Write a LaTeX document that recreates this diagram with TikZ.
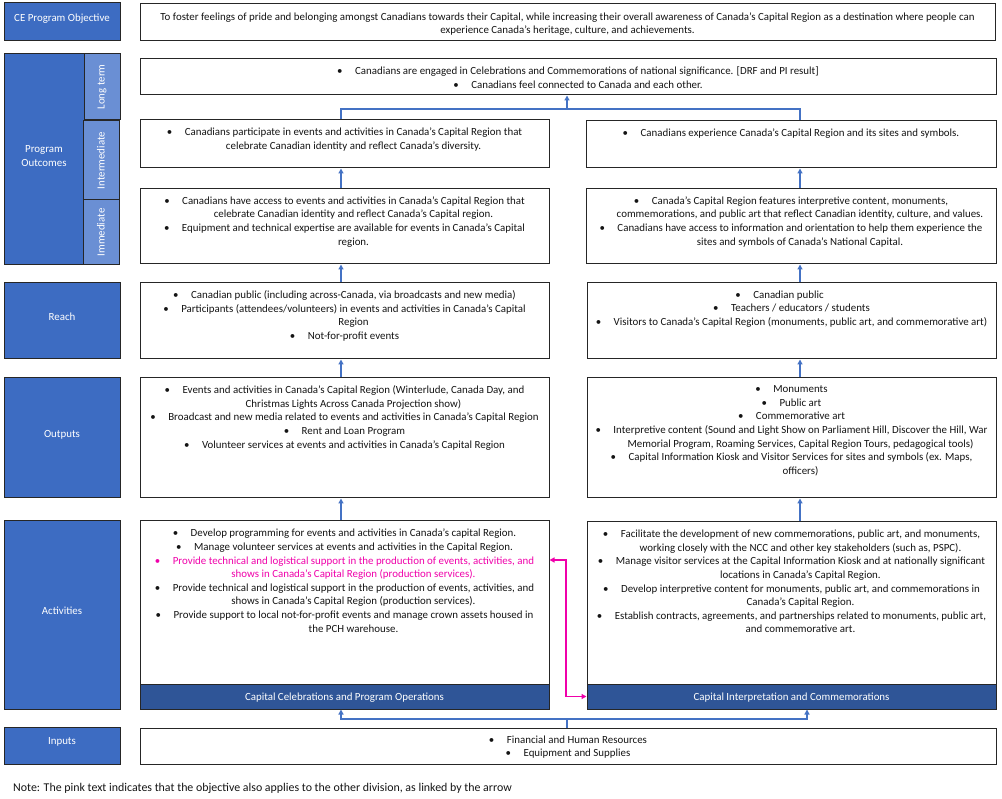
\documentclass[tikz,border=0pt]{standalone}
\usepackage{fontspec}
\setmainfont{Carlito}
\usetikzlibrary{arrows.meta,fit}

\definecolor{lblue}{RGB}{61,108,194}
\definecolor{sblue}{RGB}{106,143,212}
\definecolor{dblue}{RGB}{47,85,151}
\definecolor{ablue}{RGB}{68,114,196}
\definecolor{pinkc}{RGB}{240,0,170}
\definecolor{txt}{RGB}{20,20,20}

\newcommand\bulx{•\hspace{12.5pt}}
\newcommand\contx{\hspace*{18pt}}
\newcommand\mainfs{\fontsize{10.9}{13.6}\selectfont}

\tikzset{
  lab/.style={draw=black!85, line width=1pt, fill=lblue, inner sep=0pt, text=white, align=center, font=\mainfs},
  sub/.style={lab, fill=sblue},
  rottext/.style={rotate=90, inner sep=0pt, text=white, font=\mainfs},
  cbox/.style={draw=black!85, line width=1pt, fill=white, inner sep=0pt},
  ctext/.style={anchor=north, inner sep=0pt, align=center, text=txt, font=\mainfs},
  bar/.style={draw=black!85, line width=1pt, fill=dblue, inner sep=0pt},
  bartext/.style={inner sep=0pt, text=white, font=\mainfs},
  link/.style={draw=ablue, line width=1.6pt},
  conn/.style={link, -{Triangle[length=5pt,width=5pt]}},
  pinkarrow/.style={draw=pinkc, line width=1.6pt, {Triangle[length=5pt,width=5pt]}-{Triangle[length=5pt,width=5pt]}},
  notetext/.style={anchor=west, inner sep=0pt, text=txt, font=\fontsize{11.9}{14}\selectfont},
}

\begin{document}
\begin{tikzpicture}[x=1pt,y=-1pt]
\useasboundingbox (0,0) rectangle (1002,799);

% ---------- left labels ----------
\node[lab, fit={(4,3) (120,41)}] (lobj) {CE Program Objective};
\node[lab, fit={(4,54) (84,265)}] (lpo) {Program\\Outcomes};
\node[sub, fit={(84,54) (120,120)}] (llt) {};
\node[sub, fit={(83,121) (119,200)}] (lint) {};
\node[sub, fit={(83,200) (119,265)}] (limm) {};
\node[rottext] (lltt) at (llt.center) {Long term};
\node[rottext] (lintt) at (lint.center) {Intermediate};
\node[rottext] (limmt) at (limm.center) {Immediate};
\node[lab, fit={(4,283) (120,359)}] (lreach) {Reach};
\node[lab, fit={(4,378) (120,498)}] (lout) {Outputs};
\node[lab, fit={(4,521) (120,709)}] (lact) {Activities};
\node[lab, fit={(4,727) (120,764)}] (linp) {Inputs};

% ---------- content boxes ----------
\node[cbox, fit={(140,4) (995,41)}] (cobj) {};
\node[cbox, fit={(140,59) (996,95)}] (clt) {};
\node[cbox, fit={(140,120) (549,168)}] (cintL) {};
\node[cbox, fit={(586,121) (996,168)}] (cintR) {};
\node[cbox, fit={(140,189) (549,264)}] (cimmL) {};
\node[cbox, fit={(586,189) (996,264)}] (cimmR) {};
\node[cbox, fit={(140,283) (549,359)}] (creachL) {};
\node[cbox, fit={(587,283) (996,359)}] (creachR) {};
\node[cbox, fit={(140,378) (549,498)}] (coutL) {};
\node[cbox, fit={(587,378) (996,498)}] (coutR) {};
\node[cbox, fit={(140,521) (549,684)}] (cactL) {};
\node[cbox, fit={(587,522) (996,684)}] (cactR) {};
\node[bar, fit={(140,684) (549,709)}] (barL) {};
\node[bar, fit={(587,684) (996,709)}] (barR) {};
\node[bartext] (barLt) at ([yshift=-1.5pt]barL.center) {Capital Celebrations and Program Operations};
\node[bartext] (barRt) at ([yshift=-1.5pt]barR.center) {Capital Interpretation and Commemorations};
\node[cbox, fit={(140,728) (996,764)}] (cinp) {};

% ---------- texts ----------
\node[ctext] (tobj) at ([yshift=-9pt]cobj.north) {To foster feelings of pride and belonging amongst Canadians towards their Capital, while increasing their overall awareness of Canada’s Capital Region as a destination where people can\\experience Canada’s heritage, culture, and achievements.};

\node[ctext] (tlt) at ([xshift=10pt,yshift=-8pt]clt.north) {\bulx Canadians are engaged in Celebrations and Commemorations of national significance. [DRF and PI result]\\\bulx Canadians feel connected to Canada and each other.};

\node[ctext] (tintL) at ([yshift=-8.5pt]cintL.north) {\bulx Canadians participate in events and activities in Canada’s Capital Region that\\\contx celebrate Canadian identity and reflect Canada’s diversity.};

\node[ctext] (tintR) at ([yshift=-8.5pt]cintR.north) {\bulx Canadians experience Canada’s Capital Region and its sites and symbols.};

\node[ctext] (timmL) at ([yshift=-8pt]cimmL.north) {\bulx Canadians have access to events and activities in Canada’s Capital Region that\\\contx celebrate Canadian identity and reflect Canada’s Capital region.\\\bulx Equipment and technical expertise are available for events in Canada’s Capital\\\contx region.};

\node[ctext] (timmR) at ([yshift=-8pt]cimmR.north) {\bulx Canada’s Capital Region features interpretive content, monuments,\\\contx commemorations, and public art that reflect Canadian identity, culture, and values.\\\bulx Canadians have access to information and orientation to help them experience the\\\contx sites and symbols of Canada’s National Capital.};

\node[ctext] (treachL) at ([yshift=-8pt]creachL.north) {\bulx Canadian public (including across-Canada, via broadcasts and new media)\\\bulx Participants (attendees/volunteers) in events and activities in Canada’s Capital\\\contx Region\\\bulx Not-for-profit events};

\node[ctext] (treachR) at ([yshift=-8pt]creachR.north) {\bulx Canadian public\hspace*{24pt}\\\bulx Teachers / educators / students\\\bulx Visitors to Canada’s Capital Region (monuments, public art, and commemorative art)};

\node[ctext] (toutL) at ([yshift=-8pt]coutL.north) {\bulx Events and activities in Canada’s Capital Region (Winterlude, Canada Day, and\\\contx Christmas Lights Across Canada Projection show)\\\bulx Broadcast and new media related to events and activities in Canada’s Capital Region\\\bulx Rent and Loan Program\\\bulx Volunteer services at events and activities in Canada’s Capital Region};

\node[ctext] (toutR) at ([yshift=-8pt]coutR.north) {\bulx Monuments\\\bulx Public art\\\bulx Commemorative art\\\bulx Interpretive content (Sound and Light Show on Parliament Hill, Discover the Hill, War\\\contx Memorial Program, Roaming Services, Capital Region Tours, pedagogical tools)\\\bulx Capital Information Kiosk and Visitor Services for sites and symbols (ex. Maps,\\\contx officers)};

\node[ctext] (tactL) at ([yshift=-8.5pt]cactL.north) {\bulx Develop programming for events and activities in Canada’s capital Region.\\\bulx Manage volunteer services at events and activities in the Capital Region.\\\textcolor{pinkc}{\bulx Provide technical and logistical support in the production of events, activities, and}\\\textcolor{pinkc}{\contx shows in Canada’s Capital Region (production services).}\\\bulx Provide technical and logistical support in the production of events, activities, and\\\contx shows in Canada’s Capital Region (production services).\\\bulx Provide support to local not-for-profit events and manage crown assets housed in\\\contx the PCH warehouse.};

\node[ctext] (tactR) at ([yshift=-8.5pt]cactR.north) {\bulx Facilitate the development of new commemorations, public art, and monuments,\\\contx working closely with the NCC and other key stakeholders (such as, PSPC).\\\bulx Manage visitor services at the Capital Information Kiosk and at nationally significant\\\contx locations in Canada’s Capital Region.\\\bulx Develop interpretive content for monuments, public art, and commemorations in\\\contx Canada’s Capital Region.\\\bulx Establish contracts, agreements, and partnerships related to monuments, public art,\\\contx and commemorative art.};

\node[ctext] (tinp) at ([yshift=-8pt]cinp.north) {\bulx Financial and Human Resources\\\bulx Equipment and Supplies};

\node[notetext] (note) at (13,788) {Note: The pink text indicates that the objective also applies to the other division, as linked by the arrow};

% ---------- connectors ----------
\coordinate (xL) at (341,0);
\coordinate (xR) at (800,0);
\coordinate (xB) at (807,0);
\coordinate (jT) at (567,109);
\coordinate (jB) at (567,719);
\coordinate (xP) at (566,0);
\coordinate (yP) at (0,560);

\draw[link] (cintL.north -| xL) |- (jT) -| (cintR.north -| xR);
\draw[conn] (jT) -- (jT |- clt.south);

\draw[conn] (cimmL.north -| xL) -- (cintL.south -| xL);
\draw[conn] (creachL.north -| xL) -- (cimmL.south -| xL);
\draw[conn] (coutL.north -| xL) -- (creachL.south -| xL);
\draw[conn] (cactL.north -| xL) -- (coutL.south -| xL);

\draw[conn] (cimmR.north -| xR) -- (cintR.south -| xR);
\draw[conn] (creachR.north -| xR) -- (cimmR.south -| xR);
\draw[conn] (coutR.north -| xR) -- (creachR.south -| xR);
\draw[conn] (cactR.north -| xR) -- (coutR.south -| xR);

\draw[link] (cinp.north -| jB) -- (jB);
\draw[conn] (jB) -| (barL.south -| xL);
\draw[conn] (jB) -| (barR.south -| xB);

\draw[pinkarrow] (cactL.east |- yP) -| (xP |- barR.west) -- (barR.west);
\end{tikzpicture}
\end{document}
